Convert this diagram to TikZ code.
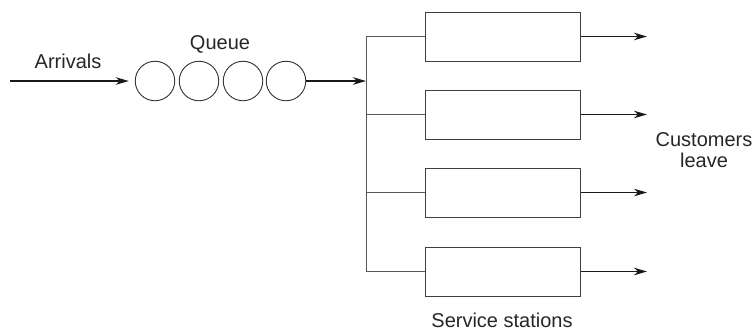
\documentclass[tikz,border=0pt]{standalone}
\usepackage{fontspec}
\setmainfont{Liberation Sans}
\usetikzlibrary{arrows.meta}
\begin{document}
\begin{tikzpicture}[x=1pt,y=-1pt,
  lbl/.style={font=\fontsize{20}{22}\selectfont, inner sep=0pt, text=black!85},
  qcircle/.style={circle, draw=black!80, line width=0.9pt, minimum size=39.5pt, inner sep=0pt},
  station/.style={rectangle, draw=black!75, line width=1pt, minimum width=155pt, minimum height=49pt, inner sep=0pt},
  flow/.style={draw=black!90, line width=1.8pt, -{Stealth[length=13pt,width=7.5pt,inset=4pt]}},
  thinflow/.style={draw=black!90, line width=1pt, -{Stealth[length=13pt,width=7.5pt,inset=4pt]}},
  branch/.style={draw=black!65, line width=1pt}
]
\useasboundingbox (0,0) rectangle (755,330);
% queue
\coordinate (start) at (10,81);
\node[qcircle] (q1) at (155,81) {};
\node[qcircle] (q2) at (199,81) {};
\node[qcircle] (q3) at (243,81) {};
\node[qcircle] (q4) at (286,81) {};
\coordinate (split) at (366,81);
% stations
\node[station] (s1) at (502.5,36.5) {};
\node[station] (s2) at (502.5,114.5) {};
\node[station] (s3) at (502.5,192.5) {};
\node[station] (s4) at (502.5,271.5) {};
\coordinate (b1) at (s1.west -| split);
\coordinate (b2) at (s2.west -| split);
\coordinate (b3) at (s3.west -| split);
\coordinate (b4) at (s4.west -| split);
\coordinate (exit) at (647,0);
\coordinate (e1) at (s1.east -| exit);
\coordinate (e2) at (s2.east -| exit);
\coordinate (e3) at (s3.east -| exit);
\coordinate (e4) at (s4.east -| exit);
% connectors
\draw[flow, shorten >=6pt] (start) -- (q1.west);
\draw[branch] (b1) -- (b4);
\draw[branch] (b1) -- (s1.west);
\draw[branch] (b2) -- (s2.west);
\draw[branch] (b3) -- (s3.west);
\draw[branch] (b4) -- (s4.west);
\draw[flow] (q4.east) -- (split);
\draw[flow] (s1.east) -- (e1);
\draw[flow] (s2.east) -- (e2);
\draw[thinflow] (s3.east) -- (e3);
\draw[flow] (s4.east) -- (e4);
% labels
\node[lbl, anchor=base] (arr) at (68,68) {Arrivals};
\node[lbl, anchor=base] (que) at (220,49) {Queue};
\node[lbl, anchor=base] (cus) at (704,146.5) {Customers};
\node[lbl, anchor=base] (lea) at (704,167) {leave};
\node[lbl, anchor=base] (ser) at (502,327) {Service stations};
\end{tikzpicture}
\end{document}
